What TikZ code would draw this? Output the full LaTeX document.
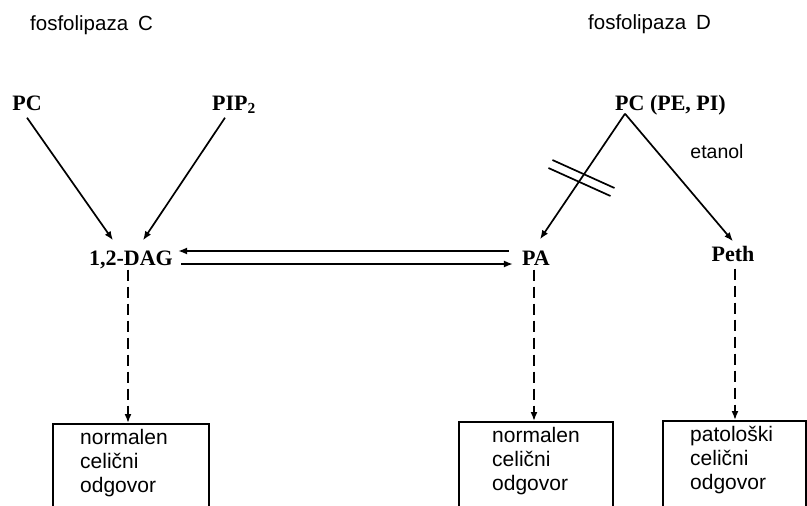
\documentclass[tikz,border=0pt]{standalone}
\usepackage{fontspec}
\setmainfont{Liberation Serif}
\setsansfont{Liberation Sans}
\usetikzlibrary{arrows.meta,calc}
\tikzset{
  lab/.style={font=\fontsize{22}{26}\selectfont\bfseries, text height=15pt, text depth=0pt, inner sep=0pt},
  hdr/.style={font=\sffamily\fontsize{20.5}{24}\selectfont, inner sep=0pt, anchor=west},
  arr/.style={line width=1.7pt, -{Latex[length=9pt,width=7pt]}},
  dasharr/.style={arr, dash pattern=on 11pt off 6pt},
  bar/.style={line width=1.7pt},
  resbox/.style={draw, line width=1.7pt, rectangle, inner sep=0pt, anchor=north west, minimum height=130pt},
  rtext/.style={font=\sffamily\fontsize{21}{24}\selectfont, align=left, inner sep=0pt, anchor=north west}
}
\begin{document}
\begin{tikzpicture}[x=1pt,y=-1pt]
\useasboundingbox (0,0) rectangle (807,506);
\clip (0,0) rectangle (807,506);
% headers
\node[hdr] (hC) at (30,25) {fosfolipaza\hspace{10pt}C};
\node[hdr] (hD) at (588,24) {fosfolipaza\hspace{10pt}D};
% labels
\node[lab] (pcL) at (27,103) {PC};
\node[lab] (pip) at (234,103) {PIP\textsubscript{2}};
\node[lab, anchor=west] (pcr) at (615,103) {PC (PE, PI)};
\node[lab] (dag) at (131,258) {1,2-DAG};
\node[lab] (pa) at (536,258) {PA};
\node[lab] (peth) at (733,254) {Peth};
\node[font=\sffamily\fontsize{19.5}{22}\selectfont, inner sep=0pt] (et) at (717,152) {etanol};
% boxes
\node[resbox, minimum width=156pt] (b1) at (52,423) {};
\node[resbox, minimum width=154pt] (b2) at (458,421) {};
\node[resbox, minimum width=143pt] (b3) at (662,420) {};
\node[rtext] (t1) at ([xshift=28pt,yshift=-4pt]b1.north west) {\strut normalen\\celični\\odgovor};
\node[rtext] (t2) at ([xshift=34pt,yshift=-4pt]b2.north west) {\strut normalen\\celični\\odgovor};
\node[rtext] (t3) at ([xshift=28pt,yshift=-4pt]b3.north west) {\strut patološki\\celični\\odgovor};
% phospholipase C arrows
\draw[arr] ([yshift=-7pt]pcL.south) -- ([xshift=-18pt,yshift=10pt]dag.north);
\draw[arr] ([xshift=-9pt,yshift=-7pt]pip.south) -- ([xshift=12pt,yshift=10pt]dag.north);
% equilibrium arrows
\draw[arr] ([xshift=-13pt,yshift=7pt]pa.west) -- ([xshift=5pt,yshift=7pt]dag.east);
\draw[arr] ([xshift=8pt,yshift=-6pt]dag.east) -- ([xshift=-9pt,yshift=-6pt]pa.west);
% phospholipase D arrows
\coordinate (apex) at ([xshift=10pt,yshift=-3pt]pcr.south west);
\coordinate (paT) at ([xshift=4pt,yshift=11pt]pa.north);
\draw[arr] (apex) -- (paT);
\draw[arr] (apex) -- ([yshift=5pt]peth.north);
\coordinate (m) at ($(apex)!0.512!(paT)$);
\draw[bar] ([shift={(-29,-18)}]m) -- ([shift={(33,10)}]m);
\draw[bar] ([shift={(-33,-10)}]m) -- ([shift={(29,18)}]m);
% dashed arrows to responses
\coordinate (d1) at ([xshift=-3pt,yshift=-4pt]dag.south);
\coordinate (d2) at ([xshift=-2pt,yshift=-4pt]pa.south);
\coordinate (d3) at ([xshift=2pt,yshift=-7pt]peth.south);
\draw[dasharr] (d1) -- (d1 |- b1.north);
\draw[dasharr] (d2) -- (d2 |- b2.north);
\draw[dasharr] (d3) -- (d3 |- b3.north);
\end{tikzpicture}
\end{document}
